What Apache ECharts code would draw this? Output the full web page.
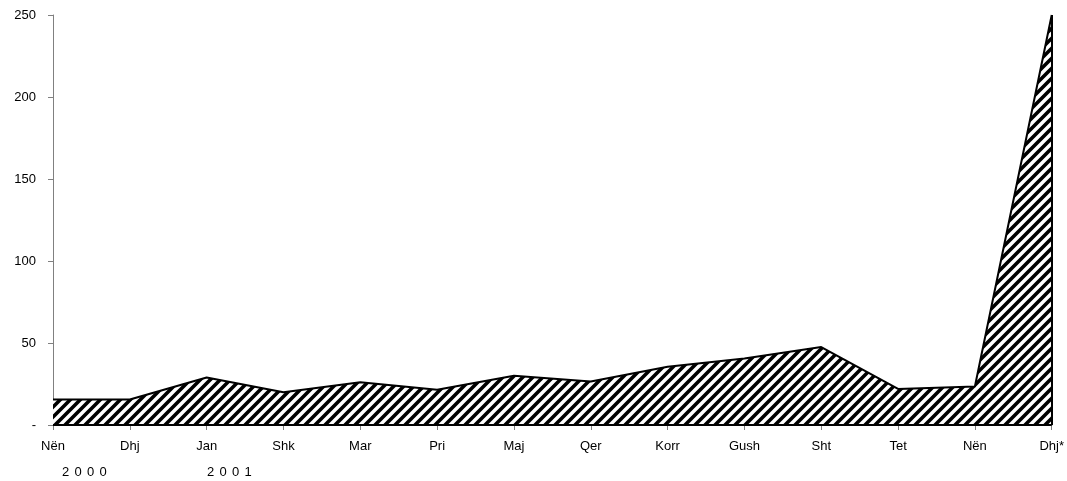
<!DOCTYPE html>
<html>
<head>
<meta charset="utf-8">
<script src="https://cdn.jsdelivr.net/npm/echarts@6/dist/echarts.min.js"></script>
<style>
html,body{margin:0;padding:0;background:#fff;}
#chart{width:1067px;height:481px;}
</style>
</head>
<body>
<div id="chart"></div>
<script>
const categories = ['Nën','Dhj','Jan','Shk','Mar','Pri','Maj','Qer','Korr','Gush','Sht','Tet','Nën','Dhj*'];
const values = [15.5, 15.5, 29, 20, 26, 21.5, 30, 26.5, 35.5, 40.5, 47.5, 22, 23.5, 250];
const yTicks = [0, 50, 100, 150, 200, 250];
const yearLabels = ['2000', '2001'];

function makePattern() {
  const s = 10;
  const c = document.createElement('canvas');
  c.width = s; c.height = s;
  const ctx = c.getContext('2d');
  ctx.fillStyle = '#fff';
  ctx.fillRect(0, 0, s, s);
  ctx.strokeStyle = '#000';
  ctx.lineWidth = 3.6;
  ctx.lineCap = 'square';
  ctx.beginPath();
  for (let k = -1; k <= 1; k++) {
    ctx.moveTo(k * s - 1, s + 1);
    ctx.lineTo(k * s + s + 1, -1);
  }
  ctx.stroke();
  return c;
}

function spaced(str) {
  return str.split('').map(ch => '{d|' + ch + '}').join('');
}

const chart = echarts.init(document.getElementById('chart'), null, {renderer: 'canvas'});
const font = 'Liberation Sans, Arial, sans-serif';
const yearStyle = {
  fill: '#000', fontFamily: font, fontSize: 13,
  rich: {d: {width: 12.5, align: 'left', fontFamily: font, fontSize: 13, fill: '#000'}}
};
chart.setOption({
  animation: false,
  backgroundColor: '#fff',
  grid: {left: 53, right: 13, top: 15, bottom: 56, containLabel: false},
  xAxis: {
    type: 'category',
    data: categories,
    boundaryGap: false,
    axisLine: {show: true, lineStyle: {color: '#000', width: 1}},
    axisTick: {show: true, length: 5, inside: false, lineStyle: {color: '#808080'}},
    axisLabel: {color: '#000', fontFamily: font, fontSize: 13, margin: 15, interval: 0},
    splitLine: {show: false}
  },
  yAxis: {
    type: 'value',
    min: yTicks[0],
    max: yTicks[yTicks.length - 1],
    interval: 50,
    axisLine: {show: true, lineStyle: {color: '#808080', width: 1}},
    axisTick: {show: true, length: 5, lineStyle: {color: '#808080'}},
    axisLabel: {color: '#000', fontFamily: font, fontSize: 13, margin: 17,
      formatter: v => v === 0 ? '-' : String(v)},
    splitLine: {show: false}
  },
  graphic: [
    {type: 'text', left: 62, top: 466, style: Object.assign({text: spaced(yearLabels[0])}, yearStyle)},
    {type: 'text', left: 207, top: 466, style: Object.assign({text: spaced(yearLabels[1])}, yearStyle)}
  ],
  series: [{
    type: 'line',
    data: values,
    symbol: 'none',
    lineStyle: {color: '#000', width: 2},
    areaStyle: {color: {image: makePattern(), repeat: 'repeat'}, opacity: 1},
    markLine: {
      silent: true,
      symbol: 'none',
      label: {show: false},
      lineStyle: {color: '#000', width: 2, type: 'solid'},
      data: [
        [{coord: [categories.length - 1, 0]}, {coord: [categories.length - 1, values[values.length - 1]]}],
        [{coord: [0, 0]}, {coord: [categories.length - 1, 0]}]
      ]
    }
  }]
});
</script>
</body>
</html>
